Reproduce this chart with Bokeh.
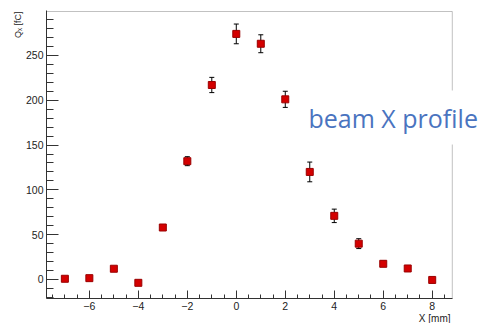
import numpy as np
from bokeh.plotting import figure
from bokeh.models import (ColumnDataSource, Whisker, TeeHead, Label, FixedTicker,
                          Range1d, Title, BoxAnnotation)
from bokeh.embed import file_html
from bokeh.resources import INLINE

# ---- data ----
x_mm = [-7, -6, -5, -4, -3, -2, -1, 0, 1, 2, 3, 4, 5, 6, 7, 8]
q_fc = [0.8, 1.5, 12, -3.7, 58, 132, 217, 274, 263, 201, 120, 71, 40, 17.5, 12.3, -0.5]
q_err = [1.5, 1.5, 2, 2, 2.5, 5, 8.5, 11, 10, 9, 11, 7.5, 5.5, 3, 2.5, 1.5]

x_ticks = [-6, -4, -2, 0, 2, 4, 6, 8]
y_ticks = [0, 50, 100, 150, 200, 250]
x_minor = list(np.arange(-7.5, 8.75, 0.5))
y_minor = list(range(-20, 300, 10))

# axis extents of the histogram frame
x_lo, x_hi = -7.75, 8.82
y_lo, y_hi = -21.2, 299

title_text = "beam X profile"
x_label = "X [mm]"
y_label = "Qₓ [fC]"

src = ColumnDataSource(dict(
    x=x_mm, y=q_fc,
    lo=[v - e for v, e in zip(q_fc, q_err)],
    hi=[v + e for v, e in zip(q_fc, q_err)],
))

# plot area extends to the right canvas edge so the overlay text is not clipped
p = figure(width=478, height=323, output_backend="svg", toolbar_location=None,
           x_range=Range1d(x_lo, 9.89), y_range=Range1d(y_lo, y_hi + 1.1),
           min_border_left=46, min_border_right=0, min_border_top=10,
           min_border_bottom=25)
p.background_fill_color = "white"
p.border_fill_color = "white"
p.grid.visible = False
p.outline_line_color = None

for ax in (p.xaxis[0], p.yaxis[0]):
    ax.axis_line_color = "#333333"
    ax.major_tick_line_color = "#333333"
    ax.minor_tick_line_color = "#333333"
    ax.major_tick_out = 0
    ax.minor_tick_out = 0
    ax.major_label_text_font = "Liberation Sans"
    ax.major_label_text_font_size = "10.5px"
    ax.major_label_text_color = "#222222"

p.xaxis.bounds = (x_lo, x_hi)
p.xaxis.ticker = FixedTicker(ticks=x_ticks, minor_ticks=x_minor)
p.yaxis.ticker = FixedTicker(ticks=y_ticks, minor_ticks=y_minor)
p.xaxis.major_tick_in = 8
p.xaxis.minor_tick_in = 4
p.yaxis.major_tick_in = 12
p.yaxis.minor_tick_in = 7
p.xaxis.major_label_standoff = 3
p.yaxis.major_label_standoff = 3

# frame box
p.add_layout(BoxAnnotation(left=x_lo, right=x_hi, bottom=y_lo, top=y_hi,
                           fill_alpha=0, line_color="#333333", line_width=1))

p.add_layout(Whisker(source=src, base="x", lower="lo", upper="hi",
                     line_color="black", line_width=1,
                     upper_head=TeeHead(size=5, line_color="black"),
                     lower_head=TeeHead(size=5, line_color="black")))
p.scatter("x", "y", source=src, marker="square", size=7,
          fill_color="#d40000", line_color="#9a0000", line_width=1)

# axis titles
p.add_layout(Title(text=x_label, align="right", offset=28, standoff=-4,
                   text_font="Liberation Sans", text_font_size="10px",
                   text_font_style="normal", text_color="#222222"), "below")
p.add_layout(Title(text=y_label, align="right", offset=1, standoff=0,
                   text_font="Liberation Sans", text_font_size="9px",
                   text_font_style="normal", text_color="#222222"), "left")

p.add_layout(Label(x=252, y=181, x_units="screen", y_units="screen",
                   text=title_text, text_align="left",
                   text_baseline="alphabetic",
                   text_font="Open Sans", text_font_size="25px",
                   text_color="#4a74bf",
                   background_fill_color="white", background_fill_alpha=1.0,
                   padding=10, level="overlay"))

open("out.html", "w").write(file_html(p, INLINE))
